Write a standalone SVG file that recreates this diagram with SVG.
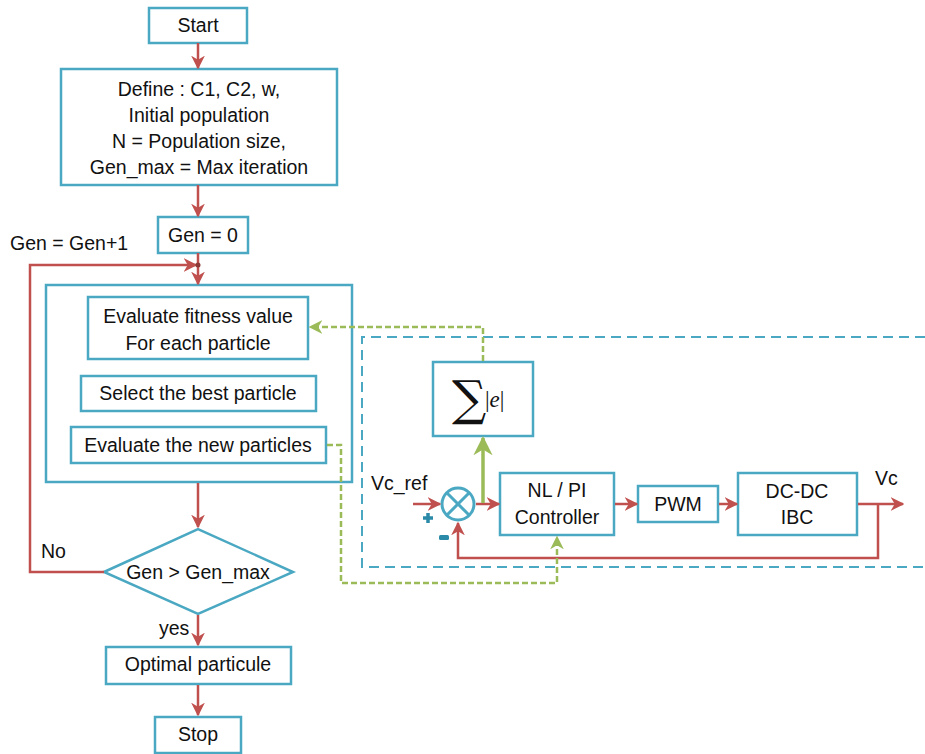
<svg xmlns="http://www.w3.org/2000/svg" width="925" height="754" viewBox="0 0 925 754">
<defs>
<style>
.box{fill:#fff;stroke:#4aa8c2;stroke-width:2.5}
.t{font-family:"Liberation Sans",Arial,sans-serif;font-size:19.5px;fill:#111;text-anchor:middle}
.tl{font-family:"Liberation Sans",Arial,sans-serif;font-size:19.5px;fill:#111}
.red{fill:none;stroke:#c0504d;stroke-width:2.5}
.gd{fill:none;stroke:#9bbb59;stroke-width:2.5;stroke-dasharray:6 3}
</style>
<marker id="ar" viewBox="0 0 10 10" refX="9" refY="5" markerWidth="5.5" markerHeight="5.5" orient="auto" markerUnits="strokeWidth">
<path d="M0,0 L10,5 L0,10 L3,5 Z" fill="#c0504d"/>
</marker>
<marker id="ag" viewBox="0 0 10 10" refX="9" refY="5" markerWidth="5.5" markerHeight="5.5" orient="auto" markerUnits="strokeWidth">
<path d="M0,0 L10,5 L0,10 L3,5 Z" fill="#9bbb59"/>
</marker>
</defs>
<rect width="925" height="754" fill="#fff"/>

<g id="plant-frame">
<path d="M925,337 H362 V567 H925" fill="none" stroke="#4aa8c2" stroke-width="2" stroke-dasharray="10 6"/>
</g>

<g id="start"><rect class="box" x="149" y="8" width="98" height="35"/><text class="t" x="198" y="32">Start</text></g>
<g id="define"><rect class="box" x="61" y="69" width="276" height="116"/>
<text class="t" x="199" y="96">Define : C1, C2, w,</text>
<text class="t" x="199" y="122">Initial population</text>
<text class="t" x="199" y="148">N = Population size,</text>
<text class="t" x="199" y="174">Gen_max = Max iteration</text></g>
<g id="gen0"><rect class="box" x="158" y="217" width="90" height="36"/><text class="t" x="203" y="242">Gen = 0</text></g>
<g id="gen-inc-label"><text class="tl" x="10" y="250">Gen = Gen+1</text></g>
<g id="loop-body"><rect class="box" x="46" y="285" width="306" height="197"/></g>
<g id="evaluate-fitness"><rect class="box" x="88" y="297" width="220" height="62"/>
<text class="t" x="198" y="323">Evaluate fitness value</text>
<text class="t" x="198" y="350">For each particle</text></g>
<g id="select-best"><rect class="box" x="81" y="376" width="235" height="35"/><text class="t" x="198" y="400">Select the best particle</text></g>
<g id="evaluate-new"><rect class="box" x="71" y="427" width="255" height="36"/><text class="t" x="198" y="452">Evaluate the new particles</text></g>
<g id="decision"><polygon points="104,572 198,529 293,572 198,614" fill="#fff" stroke="#4aa8c2" stroke-width="2.5"/>
<text class="t" x="198" y="579">Gen &gt; Gen_max</text></g>
<g id="no-label"><text class="tl" x="41" y="558">No</text></g>
<g id="yes-label"><text class="tl" x="159" y="635">yes</text></g>
<g id="optimal"><rect class="box" x="106" y="647" width="185" height="37"/><text class="t" x="198" y="671">Optimal particule</text></g>
<g id="stop"><rect class="box" x="155" y="717" width="86" height="36"/><text class="t" x="198" y="741">Stop</text></g>

<g id="sum-abs-error"><rect class="box" x="433" y="362" width="100" height="74"/>
<text x="452" y="415" font-family="'DejaVu Serif',serif" font-size="48" fill="#111">∑</text>
<text x="485" y="407" font-family="'Liberation Serif',serif" font-size="23" fill="#111">|<tspan font-style="italic">e</tspan>|</text></g>
<g id="summing-junction">
<circle cx="458" cy="504" r="16" fill="#fff" stroke="#4aa8c2" stroke-width="3"/>
<path d="M447,493 L469,515 M469,493 L447,515" stroke="#4aa8c2" stroke-width="3"/>
<path d="M428,513 V523 M423,518 H433" stroke="#2a8aa8" stroke-width="3.5"/>
<rect x="439" y="535" width="10" height="5" rx="1.5" fill="#2a8aa8"/>
</g>
<g id="vcref-label"><text class="tl" x="371" y="490">Vc_ref</text></g>
<g id="controller"><rect class="box" x="500" y="473" width="114" height="62"/>
<text class="t" x="557" y="497">NL / PI</text><text class="t" x="557" y="524">Controller</text></g>
<g id="pwm"><rect class="box" x="638" y="486" width="80" height="36"/><text class="t" x="678" y="511">PWM</text></g>
<g id="converter"><rect class="box" x="738" y="473" width="119" height="62"/>
<text class="t" x="797" y="498">DC-DC</text><text class="t" x="797" y="524">IBC</text></g>
<g id="vc-label"><text class="tl" x="875" y="485">Vc</text></g>

<g id="connectors">
<path class="red" d="M198,43 V68" marker-end="url(#ar)"/>
<path class="red" d="M198,185 V216" marker-end="url(#ar)"/>
<path class="red" d="M198,253 V284" marker-end="url(#ar)"/>
<path class="red" d="M104,572 H30 V265 H196" marker-end="url(#ar)"/>
<circle cx="198" cy="265" r="2.5" fill="#8b3a38"/>
<path class="red" d="M198,483 V527" marker-end="url(#ar)"/>
<path class="red" d="M198,615 V645" marker-end="url(#ar)"/>
<path class="red" d="M198,685 V715" marker-end="url(#ar)"/>
<path class="red" d="M413,504 H440" marker-end="url(#ar)"/>
<path class="red" d="M476,504 H499" marker-end="url(#ar)"/>
<path class="red" d="M615,504 H637" marker-end="url(#ar)"/>
<path class="red" d="M719,504 H737" marker-end="url(#ar)"/>
<path class="red" d="M858,504 H903" marker-end="url(#ar)"/>
<path class="red" d="M878,504 V558 H458 V523" marker-end="url(#ar)"/>
<path d="M483,503 V438" fill="none" stroke="#9bbb59" stroke-width="3.5" marker-end="url(#ag)"/>
<path class="gd" d="M483,361 V327 H310" marker-end="url(#ag)"/>
<path class="gd" d="M327,445 H341 V583 H557 V537" marker-end="url(#ag)"/>
</g>
</svg>
